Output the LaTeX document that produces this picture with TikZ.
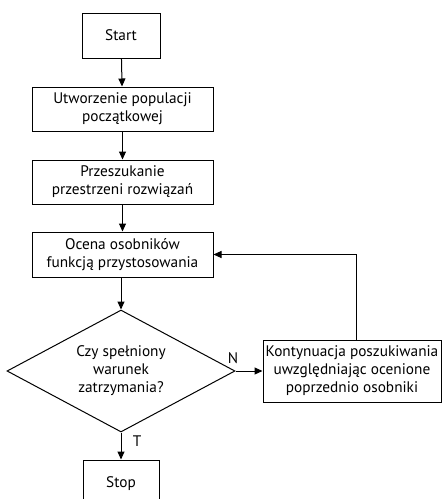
\documentclass[tikz,border=0pt]{standalone}
\usepackage{fontspec}
\setmainfont{PT Sans}
\usetikzlibrary{shapes.geometric,arrows.meta}
\begin{document}
\begin{tikzpicture}[x=1pt,y=-1pt,
  every node/.style={font=\fontsize{15.3}{18}\selectfont},
  box/.style={draw,line width=1pt,align=center,inner sep=0pt},
  cond/.style={draw,line width=1pt,diamond,align=center,inner sep=0pt,
    minimum width=228pt,minimum height=122pt,aspect=1.87},
  flow/.style={line width=1pt,-{Triangle[length=8pt,width=7pt]}},
  lbl/.style={inner sep=0pt}]
\useasboundingbox (0,0) rectangle (442,499);
\node[box,minimum width=78pt,minimum height=45pt] (start) at (121,35.5) {Start};
\node[box,minimum width=181pt,minimum height=44pt] (init) at (122.5,109) {Utworzenie populacji\\początkowej};
\node[box,minimum width=181pt,minimum height=44pt] (search) at (122.5,182) {Przeszukanie\\przestrzeni rozwiązań};
\node[box,minimum width=181pt,minimum height=45pt] (eval) at (122.5,254.5) {Ocena osobników\\funkcją przystosowania};
\node[cond] (check) at (121,371) {Czy spełniony\\warunek\\zatrzymania?};
\node[box,minimum width=178pt,minimum height=62pt] (cont) at (352,371) {Kontynuacja poszukiwania\\uwzględniając ocenione\\poprzednio osobniki};
\node[box,minimum width=76pt,minimum height=48pt] (stop) at (121,484) {Stop};
\node[lbl] (no) at (233,358) {N};
\node[lbl] (yes) at (137,441) {T};
\coordinate (back) at (356,254.5);
\draw[flow] (start) -- (init);
\draw[flow] (init) -- (search);
\draw[flow] (search) -- (eval);
\draw[flow] (eval.south -| check.north) -- (check.north);
\draw[flow] (check.east) -- (cont.west);
\draw[flow] (check.south) -- (stop.north);
\draw[flow] (cont.north -| back) |- (eval.east);
\end{tikzpicture}
\end{document}
